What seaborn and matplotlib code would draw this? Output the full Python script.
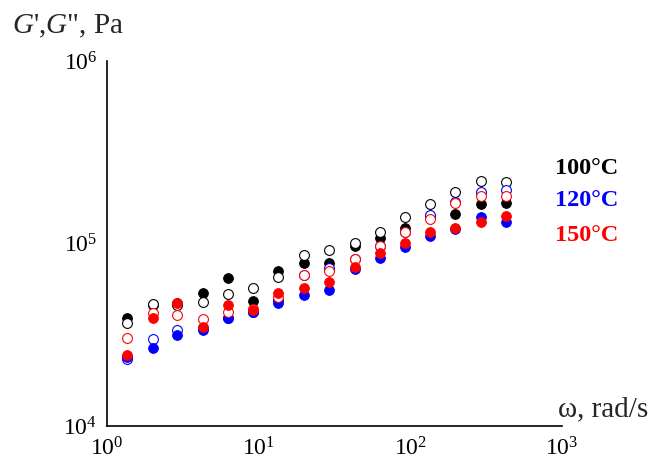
import numpy as np
import pandas as pd
import matplotlib
matplotlib.use("Agg")
import matplotlib.pyplot as plt
import seaborn as sns
from matplotlib.ticker import LogLocator, LogFormatterSciNotation, NullLocator

# ---- data ----
omega = [1.35, 2.0, 2.9, 4.3, 6.3, 9.2, 13.5, 19.8, 29, 43, 63, 92, 135, 198, 291, 427]

g1_100 = [39070, 46000, 47500, 53550, 64710, 48420, 70690, 78190, 78190, 96890,
          107200, 121600, 140000, 145100, 164600, 166700]
g2_100 = [36660, 46610, 46030, 47800, 52880, 57050, 65530, 86490, 92130, 100630,
          115600, 139700, 164600, 191500, 220000, 217300]
g1_120 = [23880, 26760, 31500, 33580, 39070, 42140, 47210, 52210, 55640, 72500,
          83280, 95680, 109900, 120100, 139700, 131200]
g2_120 = [23290, 29970, 33580, 34430, 39070, 42140, 49020, 67210, 73400, 82250,
          96890, 115600, 143300, 168800, 191500, 196500]
g1_150 = [24490, 39070, 47210, 34860, 46030, 43210, 53550, 57050, 61520, 74340,
          88720, 100630, 115600, 121600, 131200, 141500]
g2_150 = [30350, 41610, 40580, 38580, 42140, 43760, 50900, 67210, 70690, 82250,
          96890, 115600, 136200, 166700, 182100, 182100]

temps = ["100°C", "120°C", "150°C"]
colors = ["#000000", "#0000ff", "#ff0000"]

sns.set_style("white")
plt.rcParams["font.family"] = ["Liberation Serif", "DejaVu Serif"]
plt.rcParams["mathtext.fontset"] = "custom"
plt.rcParams["mathtext.rm"] = "Liberation Serif"
plt.rcParams["mathtext.it"] = "Liberation Serif:italic"

fig = plt.figure(figsize=(6.51, 4.65), dpi=100)
ax = fig.add_axes([107 / 651, 1 - 426 / 465, (562 - 107) / 651, (426 - 61) / 465])

series = [
    (g1_100, colors[0], True),
    (g2_100, colors[0], False),
    (g2_120, colors[1], False),
    (g1_120, colors[1], True),
    (g2_150, colors[2], False),
    (g1_150, colors[2], True),
]
for i, (vals, c, filled) in enumerate(series):
    df = pd.DataFrame({"omega": omega, "G": vals})
    if filled:
        sns.scatterplot(data=df, x="omega", y="G", ax=ax, marker="o", s=50,
                        facecolor=c, edgecolor=c, linewidth=0.6, zorder=3 + i,
                        legend=False)
    else:
        sns.scatterplot(data=df, x="omega", y="G", ax=ax, marker="o", s=50,
                        facecolor="white", edgecolor=c, linewidth=0.8, zorder=3 + i,
                        legend=False)

ax.set_xscale("log")
ax.set_yscale("log")
ax.set_xlim(1, 1000)
ax.set_ylim(1e4, 1e6)
ax.xaxis.set_major_locator(LogLocator(base=10, numticks=10))
ax.yaxis.set_major_locator(LogLocator(base=10, numticks=10))
ax.xaxis.set_minor_locator(NullLocator())
ax.yaxis.set_minor_locator(NullLocator())
ax.xaxis.set_major_formatter(LogFormatterSciNotation())
ax.yaxis.set_major_formatter(LogFormatterSciNotation())
ax.set_xlabel("")
ax.set_ylabel("")

for s in ["top", "right"]:
    ax.spines[s].set_visible(False)
for s in ["left", "bottom"]:
    ax.spines[s].set_color("black")
    ax.spines[s].set_linewidth(1.2)
ax.tick_params(axis="both", which="major", direction="out", length=5, width=1.2,
               color="black", labelsize=17, labelcolor="black", pad=2)
ax.tick_params(axis="x", pad=3)
ax.set_facecolor("white")

fig.text(12 / 651, 1 - 33 / 465, "$\\mathit{G}$',$\\mathit{G}$\", Pa", fontsize=21,
         ha="left", va="baseline")
fig.text(648 / 651, 1 - 416 / 465, "ω, rad/s", fontsize=21, ha="right", va="baseline")

ys = [168, 201, 235]
for t, c, y in zip(temps, colors, ys):
    fig.text(555 / 651, 1 - y / 465, t, color=c, fontsize=17.5, fontweight="bold",
             ha="left", va="center")

fig.savefig("out.png", dpi=100, facecolor="white")
